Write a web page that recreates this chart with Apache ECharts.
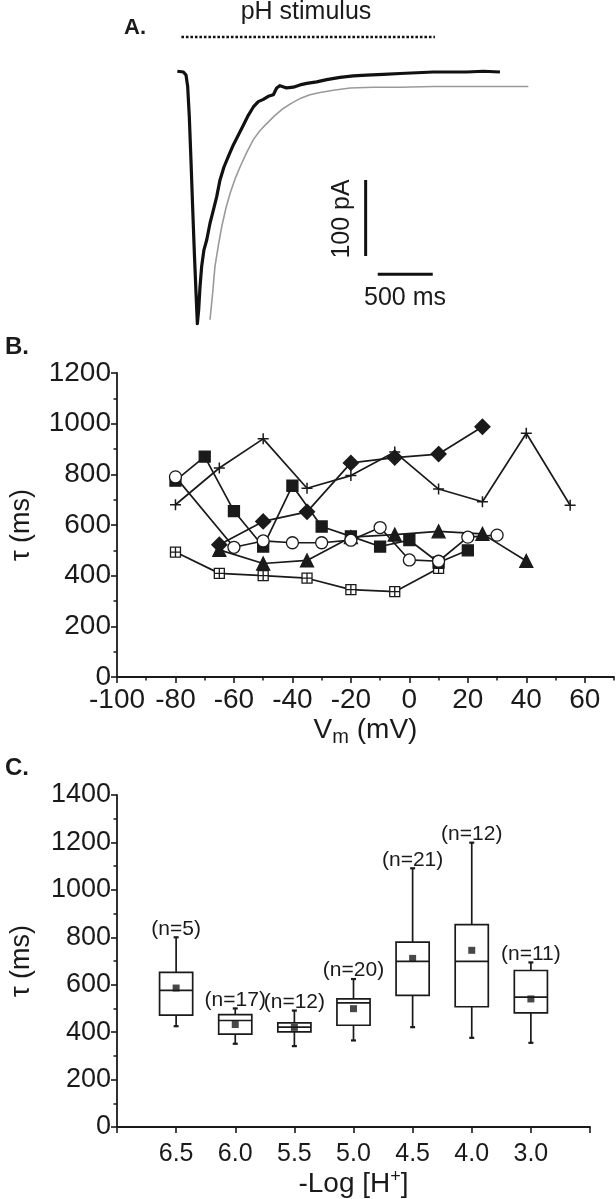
<!DOCTYPE html>
<html><head><meta charset="utf-8">
<script src="https://cdn.jsdelivr.net/npm/echarts@6.0.0/dist/echarts.min.js"></script>
<style>html,body{margin:0;padding:0;background:#fff}#c{width:616px;height:1199px}</style>
</head><body><div id="c"></div>
<script>
// ---------- Panel A: current trace (ms, pA) ----------
const traceTime = [3,58,82,97,112,127,142,158,173,185,197,209,224,245,270,300,330,361,391,427,467,512,558,603,648,694,739,785,830,876,906,936,997,1057,1118,1179,1270,1361,1482,1603,1724,1876,2027,2179,2330,2482,2633,2785,2936];
const traceCurrent = [1,0,-4,-19,-59,-116,-177,-239,-291,-331,-313,-283,-256,-234,-221,-199,-182,-164,-142,-125,-111,-96,-83,-70,-57,-46,-39,-36,-32,-30,-21,-18,-21,-20,-17,-15,-13,-10,-7,-5,-4,-3,-2,-1,0,0,0,1,0];
const fitTime = [300,324,345,376,406,445,482,527,573,633,694,755,815,891,966,1042,1118,1209,1300,1421,1573,1785,2027,2330,2633,3194];
const fitCurrent = [-326,-291,-256,-228,-204,-179,-160,-141,-125,-106,-89,-77,-68,-57,-48,-41,-35,-30,-27,-24,-21,-20,-20,-19,-19,-19];
const stimulusTime = [40, 2345];
const stimulusLevel = 46;
const barCurrentTime = 1715;      // 100 pA bar
const barCurrentRange = [-142, -242];
const barTimeRange = [1825, 2325]; // 500 ms bar
const barTimeLevel = -266;

// ---------- Panel B: tau vs Vm ----------
const vmSquare = [-80,-70,-60,-50,-40,-30,-20,-10,0,10,20];
const tauSquare = [775,870,655,515,755,594,555,515,540,452,500];
const vmCircle = [-80,-60,-50,-40,-30,-20,-10,0,10,20,30];
const tauCircle = [790,512,537,530,530,540,590,462,457,552,560];
const vmTriangle = [-65,-50,-35,-20,-5,10,25,40];
const tauTriangle = [502,448,460,552,562,575,565,458];
const vmDiamond = [-65,-50,-35,-20,-5,10,25];
const tauDiamond = [522,614,652,845,866,880,988];
const vmPlus = [-80,-65,-50,-35,-20,-5,10,25,40,55];
const tauPlus = [680,825,940,745,795,888,742,692,962,678];
const vmBoxCross = [-80,-65,-50,-35,-20,-5,10];
const tauBoxCross = [493,409,400,390,345,337,429];
const vmMajorTicks = [-100,-80,-60,-40,-20,0,20,40,60];
const vmMinorTicks = [-90,-70,-50,-30,-10,10,30,50,70];

// ---------- Panel C: tau vs pH ----------
const phLabels = ['6.5','6.0','5.5','5.0','4.5','4.0','3.0'];
const boxMin    = [425,351,341,365,421,376,355];
const boxQ1     = [472,392,401,429,555,507,481];
const boxMedian = [576,449,421,523,698,698,548];
const boxQ3     = [652,474,439,540,780,853,660];
const boxMax    = [800,500,491,624,1091,1199,694];
const boxMean   = [586,432,420,499,711,745,540];
const nCounts   = [5,17,12,20,21,12,11];

const INK = '#1a1a1a';
const FONT = '"Liberation Sans", Arial, sans-serif';

const zip = (a, b) => a.map((v, i) => [v, b[i]]);
const plain = v => String(v);

function lineSeries(x, y, symbol, size, fill, extra) {
  return Object.assign({
    type: 'line', xAxisIndex: 1, yAxisIndex: 1,
    data: zip(x, y), symbol: symbol, symbolSize: size,
    showAllSymbol: true,
    lineStyle: { color: INK, width: 1.7 },
    itemStyle: { color: fill, borderColor: INK, borderWidth: 1.3 },
    emphasis: { disabled: true }
  }, extra || {});
}

const boxData = phLabels.map((_, i) => [i + 1, boxMin[i], boxQ1[i], boxMedian[i], boxQ3[i], boxMax[i], nCounts[i]]);

function renderBox(params, api) {
  const x = api.value(0);
  const lo = api.coord([x, api.value(1)]);
  const q1 = api.coord([x, api.value(2)]);
  const med = api.coord([x, api.value(3)]);
  const q3 = api.coord([x, api.value(4)]);
  const hi = api.coord([x, api.value(5)]);
  const bw = api.size([1, 0])[0] * 0.56;
  const cx = lo[0];
  const st = { stroke: INK, lineWidth: 1.7, fill: null };
  const cap = 2.5;
  return { type: 'group', children: [
    { type: 'line', shape: { x1: cx, y1: hi[1], x2: cx, y2: q3[1] }, style: st },
    { type: 'line', shape: { x1: cx, y1: q1[1], x2: cx, y2: lo[1] }, style: st },
    { type: 'line', shape: { x1: cx - cap, y1: hi[1], x2: cx + cap, y2: hi[1] }, style: Object.assign({}, st, {lineWidth: 2.2}) },
    { type: 'line', shape: { x1: cx - cap, y1: lo[1], x2: cx + cap, y2: lo[1] }, style: Object.assign({}, st, {lineWidth: 2.2}) },
    { type: 'rect', shape: { x: cx - bw / 2, y: q3[1], width: bw, height: q1[1] - q3[1] }, style: { fill: '#fff', stroke: INK, lineWidth: 1.7 } },
    { type: 'line', shape: { x1: cx - bw / 2, y1: med[1], x2: cx + bw / 2, y2: med[1] }, style: st },
    { type: 'text', x: cx, y: hi[1] + 2, style: { text: '(n=' + api.value(6) + ')', font: '21px ' + FONT, fill: INK, align: 'center', verticalAlign: 'bottom' } }
  ]};
}

const axisTxt = { color: INK, fontFamily: FONT };

const option = {
  animation: false,
  backgroundColor: '#fff',
  textStyle: { fontFamily: FONT, color: INK },
  grid: [
    { left: 177, top: 26.4, width: 352, height: 311.6 },
    { left: 113, top: 373, width: 501, height: 304 },
    { left: 113, top: 795, width: 477, height: 332.5 }
  ],
  xAxis: [
    { gridIndex: 0, type: 'value', min: 0, max: 3200, show: false },
    { gridIndex: 1, type: 'value', min: -100, max: 70, interval: 10, position: 'bottom',
      axisLine: { onZero: false, lineStyle: { color: INK, width: 1.8 } },
      axisTick: { length: 6, lineStyle: { color: INK, width: 1.6 }, customValues: vmMajorTicks },
      axisLabel: Object.assign({ fontSize: 28, margin: 9, customValues: vmMajorTicks, formatter: plain }, axisTxt),
      splitLine: { show: false },
      name: '{a|V}{s|m}{a| (mV)}', nameLocation: 'middle', nameGap: 36,
      nameTextStyle: { rich: { a: { fontSize: 28, fontFamily: FONT, color: INK }, s: { fontSize: 20, fontFamily: FONT, color: INK, verticalAlign: 'bottom', padding: [14, 0, 0, 0] } } } },
    { gridIndex: 1, type: 'value', min: -100, max: 70, interval: 10, position: 'bottom',
      axisLine: { show: false, onZero: false },
      axisTick: { length: 3.5, lineStyle: { color: INK, width: 1.5 }, customValues: vmMinorTicks },
      axisLabel: { show: false }, splitLine: { show: false } },
    { gridIndex: 2, type: 'value', min: 0, max: 8, interval: 1,
      axisLine: { onZero: false, lineStyle: { color: INK, width: 1.8 } },
      axisTick: { length: 6, lineStyle: { color: INK, width: 1.6 } },
      axisLabel: Object.assign({ fontSize: 25, margin: 15, formatter: v => phLabels[v - 1] || '' }, axisTxt),
      splitLine: { show: false },
      name: '{a|-Log [H}{p|+}{a|]}', nameLocation: 'middle', nameGap: 41,
      nameTextStyle: { rich: { a: { fontSize: 28, fontFamily: FONT, color: INK }, p: { fontSize: 18, fontFamily: FONT, color: INK, verticalAlign: 'top', padding: [0, 0, 14, 0] } } } }
  ],
  yAxis: [
    { gridIndex: 0, type: 'value', min: -350, max: 60, show: false },
    { gridIndex: 1, type: 'value', min: 0, max: 1200, interval: 200,
      axisLine: { show: true, onZero: false, lineStyle: { color: INK, width: 1.8 } },
      axisTick: { show: true, length: 6, lineStyle: { color: INK, width: 1.6 } },
      minorTick: { show: true, splitNumber: 2, length: 3.5, lineStyle: { color: INK, width: 1.5 } },
      axisLabel: Object.assign({ fontSize: 28, margin: 6, formatter: plain }, axisTxt),
      splitLine: { show: false },
      name: 'τ (ms)', nameLocation: 'middle', nameGap: 82, nameRotate: 90,
      nameTextStyle: { fontSize: 27, fontFamily: FONT, color: INK } },
    { gridIndex: 2, type: 'value', min: 0, max: 1400, interval: 200,
      axisLine: { show: true, onZero: false, lineStyle: { color: INK, width: 1.8 } },
      axisTick: { show: true, length: 6, lineStyle: { color: INK, width: 1.6 } },
      minorTick: { show: true, splitNumber: 2, length: 3.5, lineStyle: { color: INK, width: 1.5 } },
      axisLabel: Object.assign({ fontSize: 27, margin: 6, formatter: plain }, axisTxt),
      splitLine: { show: false },
      name: 'τ (ms)', nameLocation: 'middle', nameGap: 82, nameRotate: 90,
      nameTextStyle: { fontSize: 27, fontFamily: FONT, color: INK } }
  ],
  series: [
    // Panel A
    { type: 'line', xAxisIndex: 0, yAxisIndex: 0, data: zip(fitTime, fitCurrent), symbol: 'none',
      lineStyle: { color: '#9a9a9a', width: 1.6 }, clip: false },
    { type: 'line', xAxisIndex: 0, yAxisIndex: 0, data: zip(traceTime, traceCurrent), symbol: 'none',
      lineStyle: { color: '#111', width: 3.2, join: 'round' }, clip: false },
    { type: 'line', xAxisIndex: 0, yAxisIndex: 0, data: stimulusTime.map(t => [t, stimulusLevel]), symbol: 'none',
      lineStyle: { color: '#111', width: 2.6, type: [2.6, 1.9], cap: 'butt' }, clip: false },
    { type: 'line', xAxisIndex: 0, yAxisIndex: 0, data: barCurrentRange.map(c => [barCurrentTime, c]), symbol: 'none',
      lineStyle: { color: '#111', width: 3 }, clip: false },
    { type: 'line', xAxisIndex: 0, yAxisIndex: 0, data: barTimeRange.map(t => [t, barTimeLevel]), symbol: 'none',
      lineStyle: { color: '#111', width: 3 }, clip: false },
    // Panel B
    lineSeries(vmBoxCross, tauBoxCross, 'path://M0,0H10V10H0Z M5,0V10 M0,5H10', 10, '#fff'),
    lineSeries(vmPlus, tauPlus, 'path://M5,0V10M0,5H10', 11, 'rgba(0,0,0,0)', { itemStyle: { color: 'rgba(0,0,0,0)', borderColor: INK, borderWidth: 1.5 } }),
    lineSeries(vmDiamond, tauDiamond, 'diamond', 15, INK),
    lineSeries(vmTriangle, tauTriangle, 'triangle', 13, INK),
    lineSeries(vmSquare, tauSquare, 'rect', 11, INK),
    lineSeries(vmCircle, tauCircle, 'circle', 12, '#fff'),
    // Panel C
    { type: 'custom', xAxisIndex: 3, yAxisIndex: 2, data: boxData, renderItem: renderBox,
      encode: { x: 0, y: [1, 2, 3, 4, 5] }, clip: false },
    { type: 'scatter', xAxisIndex: 3, yAxisIndex: 2, data: phLabels.map((_, i) => [i + 1, boxMean[i]]),
      symbol: 'rect', symbolSize: 7, itemStyle: { color: INK }, z: 5 }
  ],
  graphic: [
    { type: 'text', x: 135, y: 28, style: { text: 'A.', font: 'bold 22px ' + FONT, fill: INK, align: 'center', verticalAlign: 'middle' } },
    { type: 'text', x: 306, y: 12, style: { text: 'pH stimulus', font: '25px ' + FONT, fill: INK, align: 'center', verticalAlign: 'middle' } },
    { type: 'text', x: 342, y: 219, rotation: Math.PI / 2, style: { text: '100 pA', font: '25px ' + FONT, fill: INK, align: 'center', verticalAlign: 'middle' } },
    { type: 'text', x: 405, y: 298, style: { text: '500 ms', font: '25px ' + FONT, fill: INK, align: 'center', verticalAlign: 'middle' } },
    { type: 'text', x: 17, y: 347, style: { text: 'B.', font: 'bold 24px ' + FONT, fill: INK, align: 'center', verticalAlign: 'middle' } },
    { type: 'text', x: 17, y: 768, style: { text: 'C.', font: 'bold 24px ' + FONT, fill: INK, align: 'center', verticalAlign: 'middle' } }
  ]
};

const chart = echarts.init(document.getElementById('c'), null, { renderer: 'canvas' });
chart.setOption(option);
</script>
</body></html>
